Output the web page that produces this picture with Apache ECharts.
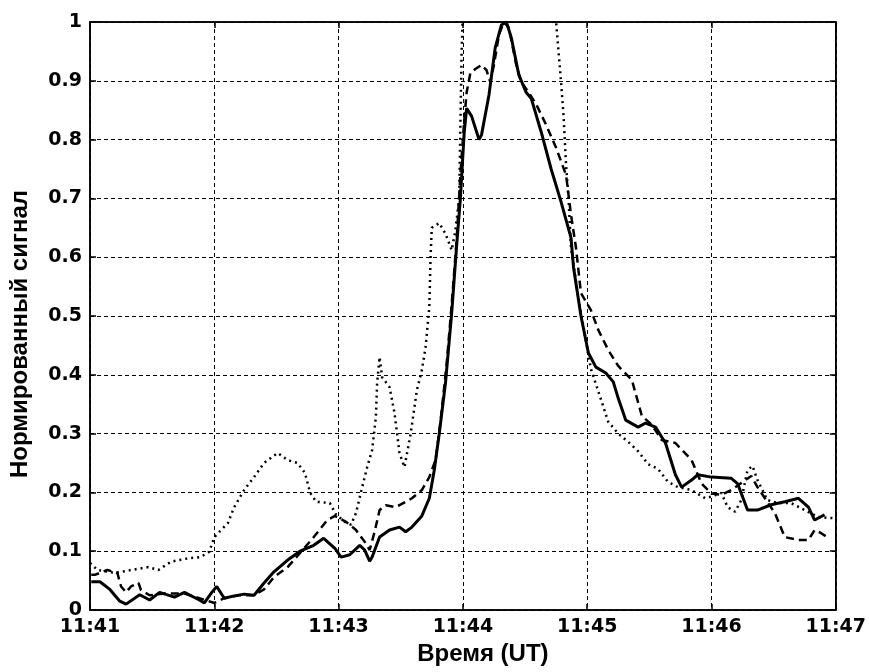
<!DOCTYPE html>
<html>
<head>
<meta charset="utf-8">
<script src="https://cdn.jsdelivr.net/npm/echarts@6/dist/echarts.min.js"></script>
<style>
  html, body { margin: 0; padding: 0; background: #fff; }
  #chart { width: 869px; height: 672px; }
</style>
</head>
<body>
<div id="chart"></div>
<script>
// time axis in minutes after 11:41
const xTickLabels = ['11:41', '11:42', '11:43', '11:44', '11:45', '11:46', '11:47'];
const yTickLabels = ['0', '0.1', '0.2', '0.3', '0.4', '0.5', '0.6', '0.7', '0.8', '0.9', '1'];

// solid curve
const solidT = [0.01, 0.08, 0.16, 0.24, 0.29, 0.40, 0.48, 0.56, 0.68, 0.76, 0.88, 0.92, 0.98, 1.02, 1.08, 1.16, 1.24, 1.32, 1.40, 1.48, 1.59, 1.69, 1.80, 1.88, 1.97, 2.02, 2.09, 2.17, 2.21, 2.25, 2.27, 2.33, 2.41, 2.49, 2.54, 2.59, 2.67, 2.73, 2.77, 2.81, 2.86, 2.91, 2.95, 2.98, 3.01, 3.03, 3.07, 3.13, 3.15, 3.21, 3.26, 3.31, 3.35, 3.39, 3.45, 3.51, 3.55, 3.63, 3.71, 3.79, 3.87, 3.89, 3.95, 4.01, 4.07, 4.15, 4.21, 4.25, 4.31, 4.41, 4.47, 4.55, 4.63, 4.71, 4.76, 4.84, 4.89, 5.00, 5.16, 5.21, 5.29, 5.37, 5.48, 5.59, 5.70, 5.78, 5.83, 5.91];
const solidV = [0.048, 0.048, 0.035, 0.015, 0.010, 0.026, 0.017, 0.030, 0.022, 0.030, 0.017, 0.012, 0.030, 0.040, 0.020, 0.024, 0.027, 0.025, 0.046, 0.065, 0.085, 0.100, 0.110, 0.122, 0.105, 0.090, 0.094, 0.110, 0.102, 0.083, 0.090, 0.124, 0.136, 0.141, 0.133, 0.141, 0.160, 0.190, 0.238, 0.300, 0.386, 0.505, 0.620, 0.700, 0.810, 0.853, 0.840, 0.800, 0.808, 0.876, 0.956, 0.995, 1.000, 0.973, 0.910, 0.880, 0.870, 0.813, 0.750, 0.694, 0.633, 0.583, 0.500, 0.437, 0.413, 0.403, 0.388, 0.360, 0.323, 0.311, 0.318, 0.311, 0.284, 0.230, 0.209, 0.221, 0.230, 0.226, 0.224, 0.215, 0.170, 0.170, 0.179, 0.184, 0.190, 0.175, 0.153, 0.162];

// dashed curve
const dashT = [0.01, 0.04, 0.14, 0.22, 0.25, 0.29, 0.33, 0.39, 0.41, 0.48, 0.60, 0.76, 0.88, 1.00, 1.08, 1.20, 1.32, 1.40, 1.48, 1.59, 1.69, 1.80, 1.91, 1.97, 2.06, 2.14, 2.21, 2.25, 2.29, 2.33, 2.38, 2.46, 2.54, 2.59, 2.67, 2.73, 2.78, 2.82, 2.87, 2.91, 2.95, 2.98, 3.01, 3.03, 3.06, 3.10, 3.15, 3.19, 3.22, 3.25, 3.29, 3.33, 3.37, 3.43, 3.47, 3.53, 3.59, 3.67, 3.75, 3.83, 3.87, 3.91, 3.95, 4.03, 4.09, 4.17, 4.25, 4.36, 4.44, 4.52, 4.60, 4.71, 4.84, 4.92, 5.00, 5.08, 5.16, 5.24, 5.32, 5.37, 5.43, 5.51, 5.59, 5.70, 5.78, 5.83, 5.88, 5.93];
const dashV = [0.060, 0.060, 0.068, 0.063, 0.040, 0.030, 0.040, 0.046, 0.034, 0.025, 0.028, 0.028, 0.020, 0.012, 0.020, 0.025, 0.025, 0.035, 0.056, 0.073, 0.097, 0.124, 0.153, 0.160, 0.150, 0.136, 0.116, 0.102, 0.133, 0.170, 0.178, 0.175, 0.184, 0.190, 0.204, 0.226, 0.255, 0.320, 0.420, 0.520, 0.630, 0.740, 0.830, 0.880, 0.913, 0.920, 0.927, 0.918, 0.898, 0.927, 0.978, 1.000, 0.990, 0.927, 0.898, 0.880, 0.860, 0.825, 0.786, 0.740, 0.672, 0.616, 0.539, 0.510, 0.476, 0.442, 0.415, 0.391, 0.330, 0.315, 0.289, 0.284, 0.255, 0.215, 0.198, 0.196, 0.204, 0.216, 0.228, 0.209, 0.190, 0.165, 0.124, 0.119, 0.119, 0.136, 0.131, 0.124];

// dotted curve (goes off scale above 1 near the peak)
const dotT = [0.00, 0.06, 0.20, 0.33, 0.47, 0.55, 0.65, 0.79, 0.89, 0.96, 1.00, 1.11, 1.16, 1.24, 1.32, 1.40, 1.51, 1.59, 1.67, 1.73, 1.77, 1.82, 1.93, 1.98, 2.05, 2.10, 2.14, 2.19, 2.23, 2.27, 2.30, 2.31, 2.33, 2.35, 2.41, 2.45, 2.49, 2.53, 2.58, 2.63, 2.67, 2.70, 2.73, 2.74, 2.75, 2.81, 2.86, 2.91, 2.94, 2.97, 2.99, 3.02, 3.40, 3.71, 3.75, 3.79, 3.81, 3.83, 3.85, 3.87, 3.93, 4.03, 4.17, 4.25, 4.33, 4.41, 4.49, 4.57, 4.65, 4.73, 4.84, 4.95, 5.00, 5.08, 5.13, 5.19, 5.24, 5.29, 5.33, 5.37, 5.45, 5.53, 5.64, 5.75, 5.86, 5.99];
const dotV = [0.080, 0.068, 0.063, 0.068, 0.073, 0.068, 0.082, 0.088, 0.090, 0.099, 0.124, 0.148, 0.175, 0.204, 0.226, 0.250, 0.267, 0.255, 0.250, 0.233, 0.200, 0.184, 0.182, 0.162, 0.150, 0.145, 0.165, 0.209, 0.243, 0.272, 0.328, 0.386, 0.430, 0.396, 0.379, 0.335, 0.267, 0.243, 0.300, 0.374, 0.408, 0.447, 0.515, 0.600, 0.650, 0.658, 0.640, 0.612, 0.646, 0.700, 0.950, 1.150, 1.300, 1.150, 1.000, 0.898, 0.840, 0.757, 0.700, 0.616, 0.530, 0.410, 0.320, 0.300, 0.286, 0.270, 0.248, 0.240, 0.218, 0.209, 0.204, 0.190, 0.193, 0.199, 0.175, 0.167, 0.187, 0.238, 0.245, 0.221, 0.187, 0.182, 0.182, 0.170, 0.158, 0.156];

const zip = (t, v) => t.map((x, i) => [x, v[i]]);

const chart = echarts.init(document.getElementById('chart'));

const tickFont = {
  color: '#000',
  fontFamily: 'DejaVu Sans, sans-serif',
  fontWeight: 'bold',
  fontSize: 19
};
const titleFont = {
  color: '#000',
  fontFamily: 'Liberation Sans, Arial, sans-serif',
  fontWeight: 'bold',
  fontSize: 24
};
const gridLine = { show: true, lineStyle: { color: '#000', type: [4, 3], width: 1 } };
const edge = { show: true, onZero: false, lineStyle: { color: '#000', width: 1.5 } };
const ticks = { show: true, inside: true, length: 6, lineStyle: { color: '#000', width: 1.5 } };

chart.setOption({
  animation: false,
  backgroundColor: '#fff',
  grid: {
    left: 90, right: 31, top: 22, bottom: 62,
    show: true, borderColor: '#000', borderWidth: 1.5, backgroundColor: '#fff'
  },
  xAxis: [{
    type: 'value', min: 0, max: 6, interval: 1,
    axisLine: edge, axisTick: ticks,
    axisLabel: Object.assign({ margin: 8, formatter: v => xTickLabels[Math.round(v)] }, tickFont),
    splitLine: gridLine,
    name: 'Время (UT)', nameLocation: 'middle', nameGap: 31,
    nameTextStyle: Object.assign({ padding: [0, 0, 0, 40] }, titleFont)
  }, {
    type: 'value', min: 0, max: 6, interval: 1, position: 'top',
    axisLine: edge, axisTick: ticks,
    axisLabel: { show: false }, splitLine: { show: false }
  }],
  yAxis: [{
    type: 'value', min: 0, max: 1, interval: 0.1,
    axisLine: edge, axisTick: ticks,
    axisLabel: Object.assign({ margin: 8, formatter: v => yTickLabels[Math.round(v * 10)] }, tickFont),
    splitLine: gridLine,
    name: 'Нормированный сигнал', nameLocation: 'middle', nameGap: 58,
    nameTextStyle: Object.assign({ padding: [0, 36, 0, 0] }, titleFont)
  }, {
    type: 'value', min: 0, max: 1, interval: 0.1, position: 'right',
    axisLine: edge, axisTick: ticks,
    axisLabel: { show: false }, splitLine: { show: false }
  }],
  series: [{
    type: 'line', name: 'dotted', data: zip(dotT, dotV), showSymbol: false, clip: true,
    lineStyle: { color: '#000', width: 2.5, type: [2, 4] }
  }, {
    type: 'line', name: 'dashed', data: zip(dashT, dashV), showSymbol: false, clip: true,
    lineStyle: { color: '#000', width: 2.5, type: [8, 5] }
  }, {
    type: 'line', name: 'solid', data: zip(solidT, solidV), showSymbol: false, clip: true,
    lineStyle: { color: '#000', width: 3, type: 'solid' }
  }]
});
</script>
</body>
</html>
